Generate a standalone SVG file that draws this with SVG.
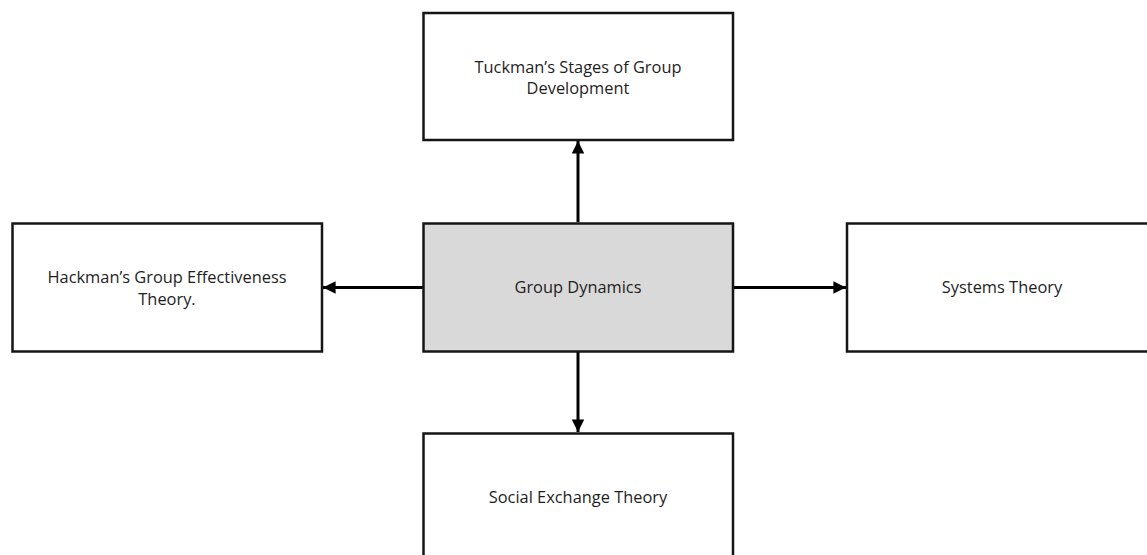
<svg xmlns="http://www.w3.org/2000/svg" width="1147" height="555" viewBox="0 0 1147 555">
<style>
.box{fill:#ffffff;stroke:#151515;stroke-width:2.5}
.center{fill:#d9d9d9;stroke:#151515;stroke-width:2.5}
.lbl{font-family:"Open Sans","Liberation Sans",sans-serif;font-size:16.4px;fill:#1e1e1e;text-anchor:middle}
.conn{stroke:#000;stroke-width:3;fill:none}
</style>
<defs>
<marker id="ah" viewBox="0 0 10 10" refX="10" refY="5" markerWidth="4.2" markerHeight="4.2" orient="auto" markerUnits="strokeWidth">
<path d="M0,0 L10,5 L0,10 Z" fill="#000"/>
</marker>
</defs>
<rect width="1147" height="555" fill="#ffffff"/>
<g id="connectors">
<line class="conn" x1="578" y1="222" x2="578" y2="141" marker-end="url(#ah)"/>
<line class="conn" x1="423" y1="287.5" x2="323" y2="287.5" marker-end="url(#ah)"/>
<line class="conn" x1="734" y1="287.5" x2="846" y2="287.5" marker-end="url(#ah)"/>
<line class="conn" x1="578" y1="352" x2="578" y2="432" marker-end="url(#ah)"/>
</g>
<g id="node-tuckman">
<rect class="box" x="423.5" y="13" width="309.5" height="127"/>
<text class="lbl" x="578" y="72.5">Tuckman’s Stages of Group</text>
<text class="lbl" x="578" y="94">Development</text>
</g>
<g id="node-group-dynamics">
<rect class="center" x="423.5" y="223.5" width="309.5" height="128"/>
<text class="lbl" x="578" y="293">Group Dynamics</text>
</g>
<g id="node-hackman">
<rect class="box" x="12.5" y="223.5" width="309.5" height="128"/>
<text class="lbl" x="167" y="283">Hackman’s Group Effectiveness</text>
<text class="lbl" x="167" y="304.5">Theory.</text>
</g>
<g id="node-systems">
<rect class="box" x="847" y="223.5" width="302" height="128"/>
<text class="lbl" x="1002" y="293">Systems Theory</text>
</g>
<g id="node-social-exchange">
<rect class="box" x="423.5" y="433.5" width="309.5" height="130"/>
<text class="lbl" x="578" y="503">Social Exchange Theory</text>
</g>
</svg>
